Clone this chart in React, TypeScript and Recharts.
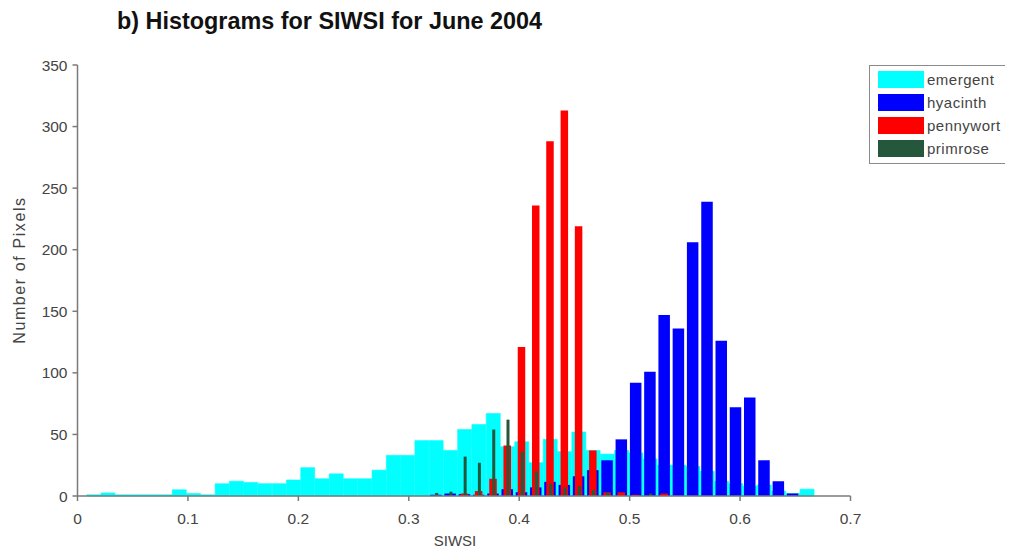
import React from 'react';
import { ComposedChart, Bar, XAxis, YAxis, Legend } from 'recharts';

// Histogram bin centres (SIWSI)
const binCenters = [
  0.0148, 0.0277, 0.0406, 0.0536, 0.0665, 0.0794, 0.0923, 0.1052, 0.1182, 0.1311,
  0.1440, 0.1569, 0.1698, 0.1828, 0.1957, 0.2086, 0.2215, 0.2344, 0.2474, 0.2603,
  0.2732, 0.2861, 0.2990, 0.3120, 0.3249, 0.3378, 0.3507, 0.3636, 0.3766, 0.3895,
  0.4024, 0.4153, 0.4282, 0.4412, 0.4541, 0.4670, 0.4799, 0.4928, 0.5058, 0.5187,
  0.5316, 0.5445, 0.5574, 0.5704, 0.5833, 0.5962, 0.6091, 0.6220, 0.6350, 0.6479,
  0.6608,
];

const emergent = [
  1, 2.5, 1, 1, 1, 1, 5, 2, 1, 10,
  12, 11, 10, 10, 13, 23, 14, 18, 14, 14,
  21, 33, 33, 45, 45, 37, 54, 58, 67, 40,
  44, 27, 46, 36, 52, 37, 34, 37, 35, 30,
  25, 25, 24, 20, 12, 10, 8, 9, 4, 2,
  5.5,
];

const hyacinth = [
  0, 0, 0, 0, 0, 0, 0, 0, 0, 0,
  0, 0, 0, 0, 0, 0, 0, 0, 0, 0,
  0, 0, 0, 0, 1, 2, 1.5, 1, 2, 5.5,
  3, 7, 11.5, 9, 16, 21, 29, 46, 92, 101,
  147, 136, 206, 239, 126, 72, 80, 29, 12, 2,
  0,
];

const pennywort = [
  0, 0, 0, 0, 0, 0, 0, 0, 0, 0,
  0, 0, 0, 0, 0, 0, 0, 0, 0, 0,
  0, 0, 0, 0, 0, 0, 2, 4, 14, 41,
  121, 236, 288, 313, 219, 37, 3, 3, 1, 0,
  2, 0, 0, 0, 0, 0, 0, 0, 0, 0,
  0,
];

const primrose = [
  0, 0, 0, 0, 0, 0, 0, 0, 0, 0,
  0, 0, 0, 0, 0, 0, 0, 0, 0, 0,
  0, 0, 0, 0, 2.5, 3.5, 32, 27, 54, 62,
  36, 20, 10, 7, 8, 5, 3, 0, 0, 2,
  0, 0, 0, 0, 0, 0, 0, 0, 0, 0,
  0,
];

const xTicks = [0, 0.1, 0.2, 0.3, 0.4, 0.5, 0.6, 0.7];
const yTicks = [0, 50, 100, 150, 200, 250, 300, 350];

const data = binCenters.map((x, i) => ({
  x,
  emergent: emergent[i],
  hyacinth: hyacinth[i],
  pennywort: pennywort[i],
  primrose: primrose[i],
}));

const FONT = '"Liberation Sans", Arial, Helvetica, sans-serif';
const AXIS = '#7a7a7a';

const LegendBox = (props: any) => {
  const payload = props.payload || [];
  return (
    <div
      style={{
        border: '1.5px solid #8a8a8a',
        background: '#fff',
        padding: '2px 4px 3px 8px',
        width: 138,
        boxSizing: 'border-box',
        fontFamily: FONT,
      }}
    >
      {payload.map((p: any) => (
        <div key={p.value} style={{ display: 'flex', alignItems: 'center', height: 23 }}>
          <div style={{ width: 46, height: 17, background: p.color, marginRight: 3, flexShrink: 0 }} />
          <span style={{ fontSize: 15, color: '#444', letterSpacing: 0.5, whiteSpace: 'nowrap' }}>{p.value}</span>
        </div>
      ))}
    </div>
  );
};

export default function App() {
  const W = 1005;
  const H = 545;
  return (
    <div style={{ position: 'relative', width: W, height: H, background: '#fff', fontFamily: FONT }}>
      <div
        style={{
          position: 'absolute',
          left: 109,
          top: 2,
          fontSize: 23.4,
          fontWeight: 'bold',
          lineHeight: 1,
          color: '#111',
          whiteSpace: 'nowrap',
        }}
      >
        b) Histograms for SIWSI for June 2004
      </div>
      <div
        style={{
          position: 'absolute',
          left: 12,
          top: 262,
          transform: 'translate(-50%, -50%) rotate(-90deg)',
          fontSize: 16,
          letterSpacing: 1.6,
          color: '#444',
          whiteSpace: 'nowrap',
        }}
      >
        Number of Pixels
      </div>
      <div
        style={{
          position: 'absolute',
          left: 447,
          top: 532,
          transform: 'translate(-50%, -50%)',
          fontSize: 15,
          color: '#444',
          whiteSpace: 'nowrap',
        }}
      >
        SIWSI
      </div>
      <ComposedChart
        width={W}
        height={H}
        data={data}
        margin={{ top: 57, right: 162.5, bottom: 27, left: 0 }}
        style={{ position: 'absolute', left: 0, top: 0 }}
      >
        <XAxis
          xAxisId="e"
          dataKey="x"
          type="number"
          domain={[0, 0.7]}
          ticks={xTicks}
          allowDataOverflow
          height={30}
          tickSize={5}
          tickMargin={12}
          stroke={AXIS}
          strokeWidth={1.5}
          tick={{ fill: '#444', fontSize: 15.5, fontFamily: FONT }}
          tickFormatter={(v: number) => String(v)}
        />
        <XAxis xAxisId="h" dataKey="x" type="number" domain={[0, 0.7]} allowDataOverflow hide />
        <XAxis xAxisId="p" dataKey="x" type="number" domain={[0, 0.7]} allowDataOverflow hide />
        <XAxis xAxisId="r" dataKey="x" type="number" domain={[0, 0.7]} allowDataOverflow hide />
        <YAxis
          type="number"
          domain={[0, 350]}
          ticks={yTicks}
          width={69.5}
          tickSize={5}
          tickMargin={5}
          stroke={AXIS}
          strokeWidth={1.5}
          tick={{ fill: '#444', fontSize: 15.5, fontFamily: FONT }}
        />
        <Legend
          layout="vertical"
          align="center"
          verticalAlign="middle"
          content={<LegendBox />}
          wrapperStyle={{ left: 861, top: 57, width: 'auto', height: 'auto' }}
        />
        <Bar
          xAxisId="e"
          dataKey="emergent"
          name="emergent"
          fill="#00FFFF"
          stroke="#00FFFF"
          strokeWidth={0.6}
          barSize={14}
          isAnimationActive={false}
        />
        <Bar
          xAxisId="h"
          dataKey="hyacinth"
          name="hyacinth"
          fill="#0000FF"
          barSize={11.5}
          isAnimationActive={false}
        />
        <Bar
          xAxisId="p"
          dataKey="pennywort"
          name="pennywort"
          fill="#FF0000"
          barSize={7.5}
          isAnimationActive={false}
        />
        <Bar
          xAxisId="r"
          dataKey="primrose"
          name="primrose"
          fill="#24573C"
          barSize={3}
          isAnimationActive={false}
        />
      </ComposedChart>
    </div>
  );
}
